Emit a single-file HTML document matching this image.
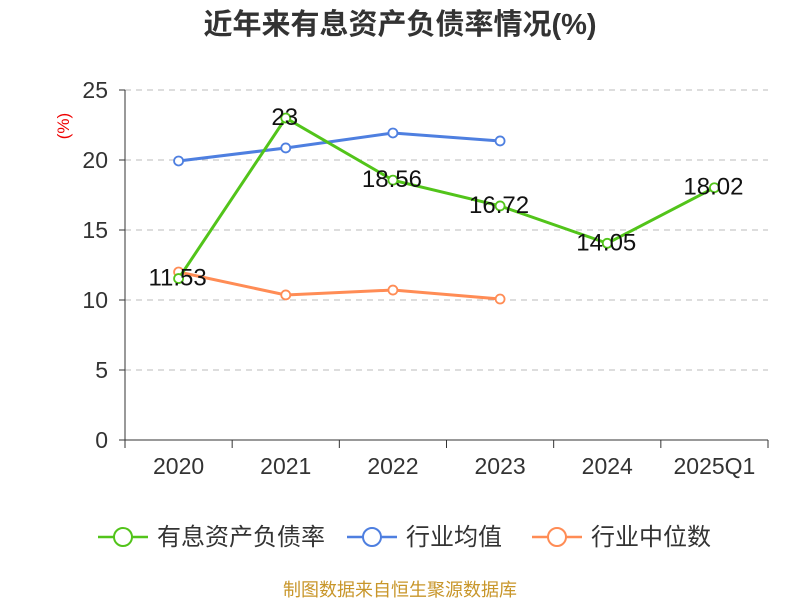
<!DOCTYPE html>
<html><head><meta charset="utf-8"><style>
body{margin:0;background:#fff;font-family:"Liberation Sans","Noto Sans CJK SC",sans-serif}
</style></head><body>
<svg id="chart" width="800" height="600" xmlns="http://www.w3.org/2000/svg" font-family="Liberation Sans, Noto Sans CJK SC, sans-serif">
<text x="400" y="34" text-anchor="middle" font-size="29" font-weight="bold" fill="#333">近年来有息资产负债率情况(%)</text>
<text x="69" y="126" transform="rotate(-90 69 126)" text-anchor="middle" font-size="17" fill="#e00">(%)</text>
<g id="grid"></g><g id="axes"></g><g id="series"></g>
<g>
<g><line x1="98" y1="537" x2="148" y2="537" stroke="#52c41a" stroke-width="2.5"/><circle cx="123" cy="537" r="9" fill="#fff" stroke="#52c41a" stroke-width="2"/><text x="157" y="545" font-size="24" fill="#333">有息资产负债率</text></g>
<g><line x1="347" y1="537" x2="397" y2="537" stroke="#4e7fe0" stroke-width="2.5"/><circle cx="372" cy="537" r="9" fill="#fff" stroke="#4e7fe0" stroke-width="2"/><text x="406" y="545" font-size="24" fill="#333">行业均值</text></g>
<g><line x1="532" y1="537" x2="582" y2="537" stroke="#ff8c55" stroke-width="2.5"/><circle cx="557" cy="537" r="9" fill="#fff" stroke="#ff8c55" stroke-width="2"/><text x="591" y="545" font-size="24" fill="#333">行业中位数</text></g>
</g>
<text x="400" y="596" text-anchor="middle" font-size="18" fill="#c8962a">制图数据来自恒生聚源数据库</text>
</svg>
<script>
const categories=["2020","2021","2022","2023","2024","2025Q1"];
const debtRatio=[11.53,23,18.56,16.72,14.05,18.02];
const industryAvg=[19.93,20.86,21.93,21.36];
const industryMedian=[12.0,10.36,10.71,10.07];
const yTicks=[0,5,10,15,20,25];
const NS="http://www.w3.org/2000/svg";
const x0=125,x1=768,yb=440,yt=90,ymax=25;
const bw=(x1-x0)/categories.length;
const xs=i=>x0+bw*(i+0.5);
const ys=v=>yb-(v/ymax)*(yb-yt);
function mk(p,tag,a){const e=document.createElementNS(NS,tag);for(const k in a)e.setAttribute(k,a[k]);p.appendChild(e);return e;}
const grid=document.getElementById('grid'),axes=document.getElementById('axes'),ser=document.getElementById('series');
yTicks.forEach(t=>{
 if(t>0){const l=mk(grid,'line',{x1:x0,x2:x1,y1:ys(t),y2:ys(t),stroke:'#bbb','stroke-dasharray':'6,5'});
 
 }
 const tk=mk(axes,'line',{x1:x0-6,x2:x0,y1:ys(t),y2:ys(t),stroke:'#333'});
 
 
 const tx=mk(axes,'text',{x:x0-17,y:ys(t)+8,'text-anchor':'end','font-size':23,fill:'#333'});tx.textContent=t;
 
 
});
const ya=mk(axes,'line',{x1:x0,x2:x0,y1:yt,y2:yb,stroke:'#333'});


const xa=mk(axes,'line',{x1:x0,x2:x1,y1:yb,y2:yb,stroke:'#333'});


for(let i=0;i<=categories.length;i++){const t=mk(axes,'line',{x1:x0+bw*i,x2:x0+bw*i,y1:yb,y2:yb+8,stroke:'#333'});
 
 }
categories.forEach((c,i)=>{const t=mk(axes,'text',{x:xs(i),y:yb+34,'text-anchor':'middle','font-size':23,fill:'#333'});t.textContent=c;
 
 });
function series(vals,color,name,labels){
 const g=mk(ser,'g',{});
 
 
 const pl=mk(g,'polyline',{points:vals.map((v,i)=>xs(i)+','+ys(v)).join(' '),fill:'none',stroke:color,'stroke-width':3});
 
 
 vals.forEach((v,i)=>{const c=mk(g,'circle',{cx:xs(i),cy:ys(v),r:4.5,fill:'#fff',stroke:color,'stroke-width':1.8});
  
  
  if(labels){const t=mk(g,'text',{x:xs(i)-1,y:ys(v)+7,'text-anchor':'middle','font-size':24,fill:'#111'});t.textContent=v;
  
  }
 });
}
series(industryAvg,'#4e7fe0','industry-average-series',false);
series(industryMedian,'#ff8c55','industry-median-series',false);
series(debtRatio,'#52c41a','debt-ratio-series',true);
</script>
</body></html>
